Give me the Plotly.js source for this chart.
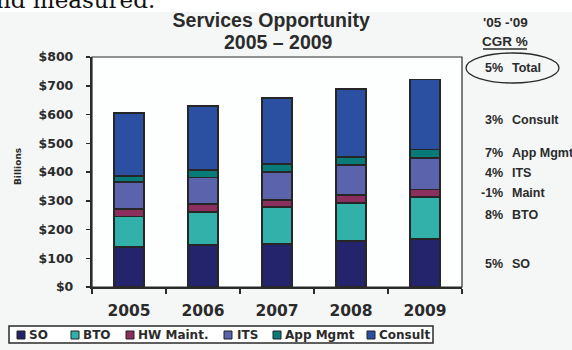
<!DOCTYPE html>
<html>
<head>
<meta charset="utf-8">
<script src="https://cdn.plot.ly/plotly-3.0.1.min.js"></script>
<style>html,body{margin:0;padding:0;background:#f5f7f7;}</style>
</head>
<body>
<div id="chart" style="width:572px;height:350px;"></div>
<script>
// ---- data ----
var years = ['2005', '2006', '2007', '2008', '2009'];
var seriesNames = ['SO', 'BTO', 'HW Maint.', 'ITS', 'App Mgmt', 'Consult'];
var soValues      = [140, 146, 150, 159, 166];
var btoValues     = [105, 115, 127, 133, 147];
var hwMaintValues = [27, 27, 27, 27, 26];
var itsValues     = [92, 93, 96, 105, 110];
var appMgmtValues = [22, 25, 28, 29, 29];
var consultValues = [218, 224, 229, 237, 244];
var seriesColors = ['#23246b', '#31b1aa', '#8b2f5f', '#5c63ad', '#087a78', '#2b50a2'];
var cgrPercents = ['5%', '3%', '7%', '4%', '-1%', '8%', '5%'];
var cgrLabels = ['Total', 'Consult', 'App Mgmt', 'ITS', 'Maint', 'BTO', 'SO'];
var yTickValues = [0, 100, 200, 300, 400, 500, 600, 700, 800];
var yTickLabels = ['$0', '$100', '$200', '$300', '$400', '$500', '$600', '$700', '$800'];

// ---- layout helpers (pixel -> paper) ----
var L = 92, R = 462, T = 57, B = 287;
function px(p) { return (p - L) / (R - L); }
function py(p) { return (B - p) / (B - T); }

var allValues = [soValues, btoValues, hwMaintValues, itsValues, appMgmtValues, consultValues];
var traces = seriesNames.map(function (name, i) {
  return {
    type: 'bar',
    name: name,
    x: years,
    y: allValues[i],
    marker: { color: seriesColors[i], line: { color: '#262626', width: 1.8 } },
    hoverinfo: 'x+y+name'
  };
});

var dark = '#2b2b2b';
var legendTextX = [29, 83, 138, 237, 285, 379];
var legendSwatchX = [17, 71, 126, 224, 273, 367];
var cgrY = [68, 120, 153, 173, 193, 215, 264];

var shapes = [
  // white page strip at top
  { type: 'rect', xref: 'paper', yref: 'paper', x0: px(0), x1: px(572), y0: py(12), y1: py(0),
    fillcolor: '#ffffff', line: { width: 0 }, layer: 'below' },
  // plot frame (top/right)
  { type: 'rect', xref: 'paper', yref: 'paper', x0: 0, x1: 1, y0: 0, y1: 1,
    line: { color: dark, width: 1.2 }, layer: 'above' },
  // ellipse round total
  { type: 'circle', xref: 'paper', yref: 'paper', x0: px(466), x1: px(559), y0: py(83), y1: py(53),
    line: { color: dark, width: 1.3 } },
  // underline for CGR %
  { type: 'line', xref: 'paper', yref: 'paper', x0: px(483), x1: px(527), y0: py(49), y1: py(49),
    line: { color: dark, width: 1.3 } },
  // legend box
  { type: 'rect', xref: 'paper', yref: 'paper', x0: px(9), x1: px(433), y0: py(343), y1: py(326),
    fillcolor: '#ffffff', line: { color: dark, width: 1.5 } }
];
seriesNames.forEach(function (n, i) {
  shapes.push({ type: 'rect', xref: 'paper', yref: 'paper',
    x0: px(legendSwatchX[i]), x1: px(legendSwatchX[i] + 8), y0: py(339), y1: py(331),
    fillcolor: seriesColors[i], line: { color: '#222', width: 1 } });
});

var annotations = [
  { text: 'nd measured.', xref: 'paper', yref: 'paper', x: px(-6), y: py(15), xanchor: 'left', yanchor: 'bottom',
    showarrow: false, font: { family: 'DejaVu Serif', size: 23, color: '#111' } },
  { text: '<b>2005 – 2009</b>', xref: 'paper', yref: 'paper', x: px(278), y: py(42), xanchor: 'center', yanchor: 'middle',
    showarrow: false, font: { family: 'Liberation Sans, Arial', size: 19.5, color: dark } },
  { text: "<b>'05 -'09</b>", xref: 'paper', yref: 'paper', x: px(505), y: py(23), xanchor: 'center', yanchor: 'middle',
    showarrow: false, font: { family: 'Liberation Sans, Arial', size: 13.5, color: dark } },
  { text: '<b>CGR %</b>', xref: 'paper', yref: 'paper', x: px(505), y: py(42), xanchor: 'center', yanchor: 'middle',
    showarrow: false, font: { family: 'Liberation Sans, Arial', size: 13.5, color: dark } },
  { text: '<b>Billions</b>', xref: 'paper', yref: 'paper', x: px(18), y: py(167), xanchor: 'center', yanchor: 'middle',
    textangle: -90, showarrow: false, font: { family: 'DejaVu Sans', size: 9, color: dark } }
];
cgrPercents.forEach(function (p, i) {
  annotations.push({ text: '<b>' + p + '</b>', xref: 'paper', yref: 'paper', x: px(505), y: py(cgrY[i]),
    xanchor: 'right', yanchor: 'middle', showarrow: false,
    font: { family: 'Liberation Sans, Arial', size: 12.5, color: dark } });
  annotations.push({ text: '<b>' + cgrLabels[i] + '</b>', xref: 'paper', yref: 'paper', x: px(510), y: py(cgrY[i]),
    xanchor: 'left', yanchor: 'middle', showarrow: false,
    font: { family: 'Liberation Sans, Arial', size: 12.5, color: dark } });
});
seriesNames.forEach(function (n, i) {
  annotations.push({ text: '<b>' + n + '</b>', xref: 'paper', yref: 'paper', x: px(legendTextX[i]), y: py(335),
    xanchor: 'left', yanchor: 'middle', showarrow: false, xshift: -2,
    font: { family: 'DejaVu Sans', size: 12, color: dark } });
});

var layout = {
  width: 572, height: 350,
  margin: { l: L, r: 572 - R, t: T, b: 350 - B, pad: 0 },
  paper_bgcolor: '#f5f7f7',
  plot_bgcolor: '#fdfefe',
  barmode: 'stack',
  bargap: 0.6,
  showlegend: false,
  title: { text: '<b>Services Opportunity</b>', x: 277 / 572, xanchor: 'center', xref: 'paper',
    yref: 'container', y: 1 - 20 / 350, yanchor: 'middle',
    font: { family: 'Liberation Sans, Arial', size: 19.5, color: dark } },
  xaxis: {
    type: 'category', tickson: 'boundaries', ticks: 'outside', ticklen: 5, tickwidth: 1.5, tickcolor: dark,
    showline: true, linecolor: dark, linewidth: 2, showgrid: false, zeroline: false,
    tickfont: { family: 'DejaVu Sans', size: 15.5, color: dark, weight: 'bold' },
    ticklabelstandoff: 8
  },
  yaxis: {
    range: [0, 800], tickmode: 'array', tickvals: yTickValues, ticktext: yTickLabels,
    ticks: 'outside', ticklen: 4, tickwidth: 1.5, tickcolor: dark,
    showline: true, linecolor: dark, linewidth: 2.2, showgrid: false, zeroline: false,
    tickfont: { family: 'DejaVu Sans', size: 12.5, color: dark, weight: 'bold' },
    ticklabelstandoff: 10
  },
  shapes: shapes,
  annotations: annotations
};

Plotly.newPlot('chart', traces, layout, { displayModeBar: false, staticPlot: true });
</script>
</body>
</html>
